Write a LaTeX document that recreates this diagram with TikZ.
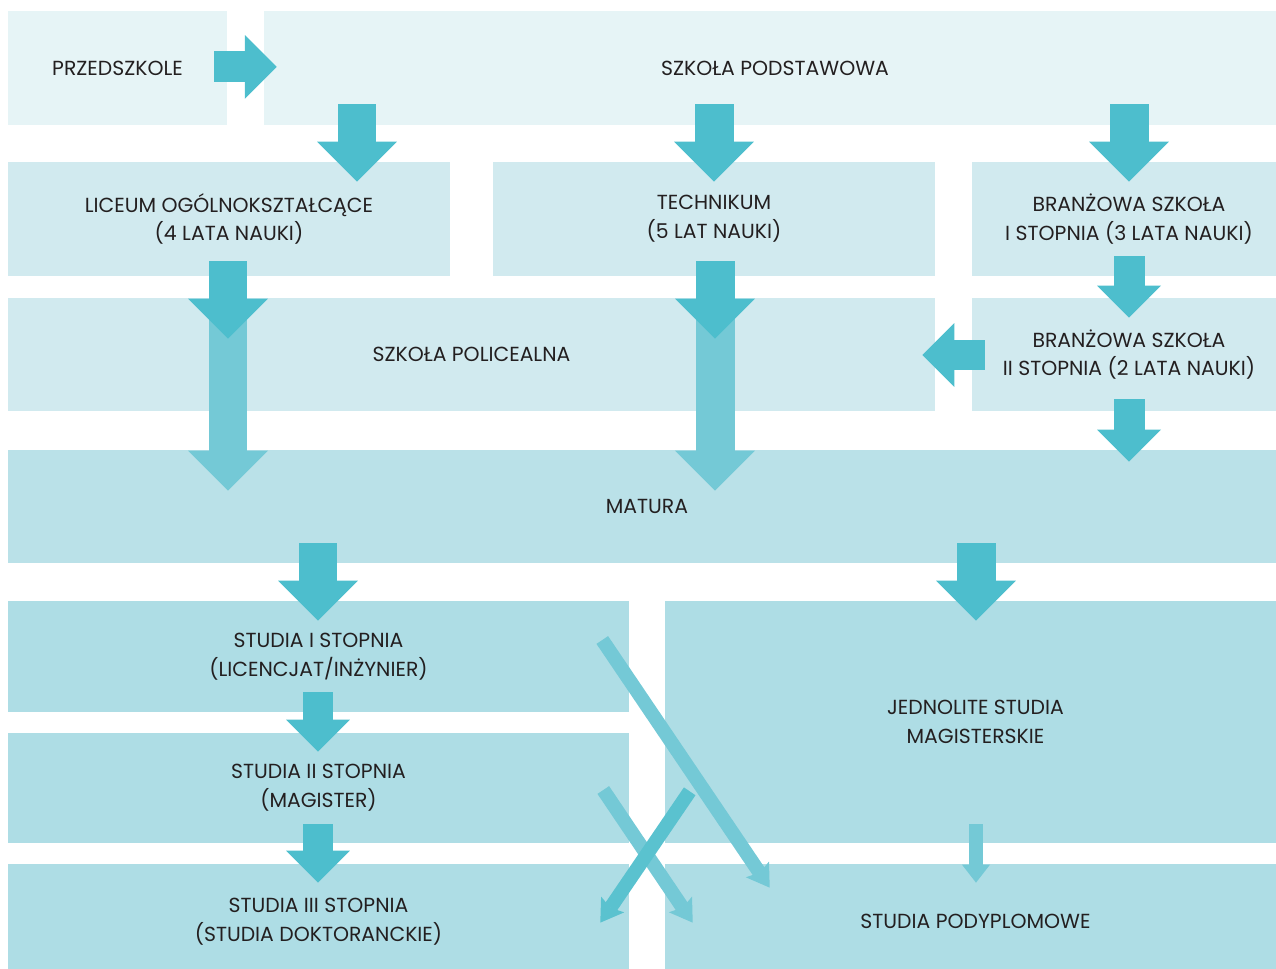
\documentclass[tikz,border=0pt]{standalone}
\usepackage{fontspec}
\setmainfont{Poppins}
\usetikzlibrary{arrows.meta, calc}
\definecolor{ink}{HTML}{231F20}
\definecolor{pale}{HTML}{E6F4F6}
\definecolor{soft}{HTML}{D1EAEF}
\definecolor{mid}{HTML}{BAE1E8}
\definecolor{deep}{HTML}{AEDDE5}
\definecolor{teal_dark}{HTML}{4DBECD}
\definecolor{teal_light}{HTML}{74C9D6}
\definecolor{teal_diag}{HTML}{5AC2CF}

\begin{document}
\begin{tikzpicture}[x=0.02cm, y=-0.02cm,
      font=\fontsize{11.6}{16.4}\selectfont,
      box/.style={inner sep=0pt, align=center, text=ink, minimum height=2.28cm},
      big/.style={teal_dark, line width=0.78cm,
        -{Triangle[length=0.8cm, width=1.6cm, line width=0pt]}},
      midarr/.style={teal_dark, line width=0.62cm,
        -{Triangle[length=0.64cm, width=1.28cm, line width=0pt]}},
      slim/.style={teal_light, line width=0.28cm,
        -{Triangle[length=0.36cm, width=0.56cm, line width=0pt]}},
      diag/.style={teal_light, line width=0.28cm,
        -{Stealth[length=0.44cm, width=0.56cm, inset=0.08cm, line width=0pt]}}]

    \useasboundingbox (0,0) rectangle (1276,969);

    %% ---- boxes (the right and bottom ones run past the page edge) --------
    \node[box, fill=pale, minimum width=4.38cm]  (prz)  at (117.5,68) {PRZEDSZKOLE};
    \node[box, fill=pale, minimum width=20.44cm] (pod)  at (775,68)   {SZKOŁA PODSTAWOWA};

    \node[box, fill=soft, minimum width=8.84cm] (lic)  at (229,219)  {LICEUM OGÓLNOKSZTAŁCĄCE\\(4 LATA NAUKI)};
    \node[box, fill=soft, minimum width=8.84cm] (tech) at (714,219)  {TECHNIKUM\\(5 LAT NAUKI)};
    \node[box, fill=soft, minimum width=6.28cm] (bra1) at (1129,219) {BRANŻOWA SZKOŁA\\I STOPNIA (3 LATA NAUKI)};

    \node[box, fill=soft, minimum width=18.54cm, minimum height=2.26cm] (pol)  at (471.5,354.5) {SZKOŁA POLICEALNA};
    \node[box, fill=soft, minimum width=6.28cm,  minimum height=2.26cm] (bra2) at (1129,354.5)  {BRANŻOWA SZKOŁA\\II STOPNIA (2 LATA NAUKI)};

    \node[box, fill=mid, minimum width=25.56cm, minimum height=2.26cm] (mat) at (647,506.5) {MATURA};

    \node[box, fill=deep, minimum width=12.42cm, minimum height=2.22cm] (s1)  at (318.5,656.5) {STUDIA I STOPNIA\\(LICENCJAT/INŻYNIER)};
    \node[box, fill=deep, minimum width=12.42cm, minimum height=4.84cm] (jed) at (975.5,722)   {JEDNOLITE STUDIA\\MAGISTERSKIE};
    \node[box, fill=deep, minimum width=12.42cm, minimum height=2.2cm]  (s2)  at (318.5,788)   {STUDIA II STOPNIA\\(MAGISTER)};
    \node[box, fill=deep, minimum width=12.42cm, minimum height=2.3cm]  (s3)  at (318.5,921.5) {STUDIA III STOPNIA\\(STUDIA DOKTORANCKIE)};
    \node[box, fill=deep, minimum width=12.42cm, minimum height=2.3cm]  (pdy) at (975.5,921.5) {STUDIA PODYPLOMOWE};

    %% ---- long light arrows through the post-secondary school -------------
    \draw[big, teal_light, shorten >=-0.82cm] (pol.north -| 228,0) -- (mat.north -| 228,0);
    \draw[big, teal_light, shorten >=-0.82cm] (pol.north -| 715,0) -- (mat.north -| 715,0);

    %% ---- main flow -------------------------------------------------------
    \draw[midarr, shorten <=-0.26cm, shorten >=-0.26cm] (prz.east |- 0,67) -- (pod.west |- 0,67);

    \draw[big, shorten <=-0.42cm, shorten >=-0.4cm] (pod.south -| 357,0)  -- (lic.north -| 357,0);
    \draw[big, shorten <=-0.42cm, shorten >=-0.4cm] (pod.south -| 714,0)  -- (tech.north -| 714,0);
    \draw[big, shorten <=-0.42cm, shorten >=-0.4cm] (pod.south -| 1129,0) -- (bra1.north -| 1129,0);

    \draw[big, shorten <=-0.3cm, shorten >=-0.82cm] (lic.south -| 228,0)  -- (pol.north -| 228,0);
    \draw[big, shorten <=-0.3cm, shorten >=-0.82cm] (tech.south -| 715,0) -- (pol.north -| 715,0);

    \draw[midarr, shorten <=-0.4cm, shorten >=-0.4cm]   (bra1.south -| 1129,0) -- (bra2.north -| 1129,0);
    \draw[midarr, shorten <=-0.26cm, shorten >=-0.26cm] (bra2.west |- 0,355)   -- (pol.east |- 0,355);
    \draw[midarr, shorten <=-0.24cm, shorten >=-0.24cm] (bra2.south -| 1129,0) -- (mat.north -| 1129,0);

    \draw[big, shorten <=-0.4cm, shorten >=-0.4cm] (mat.south -| 318,0) -- (s1.north -| 318,0);
    \draw[big, shorten <=-0.4cm, shorten >=-0.4cm] (mat.south -| 976,0) -- (jed.north -| 976,0);

    \draw[midarr, shorten <=-0.4cm, shorten >=-0.38cm] (s1.south -| 318,0) -- (s2.north -| 318,0);
    \draw[midarr, shorten <=-0.38cm, shorten >=-0.38cm] (s2.south -| 318,0) -- (s3.north -| 318,0);
    \draw[slim, shorten <=-0.38cm, shorten >=-0.38cm] (jed.south -| 976,0) -- (pdy.north -| 976,0);

    %% ---- crossing arrows -------------------------------------------------
    \draw[diag] ($(s1.east)+(-27,-16.5)$) -- ($(pdy.north west)+(105,24)$);
    \draw[diag] ($(s2.east)+(-26,2)$)      -- ($(pdy.north west)+(28,59)$);
    \draw[diag, teal_diag] ($(jed.south west)+(25,-52)$) -- ($(s3.north east)+(-29,59)$);
  \end{tikzpicture}
\end{document}
